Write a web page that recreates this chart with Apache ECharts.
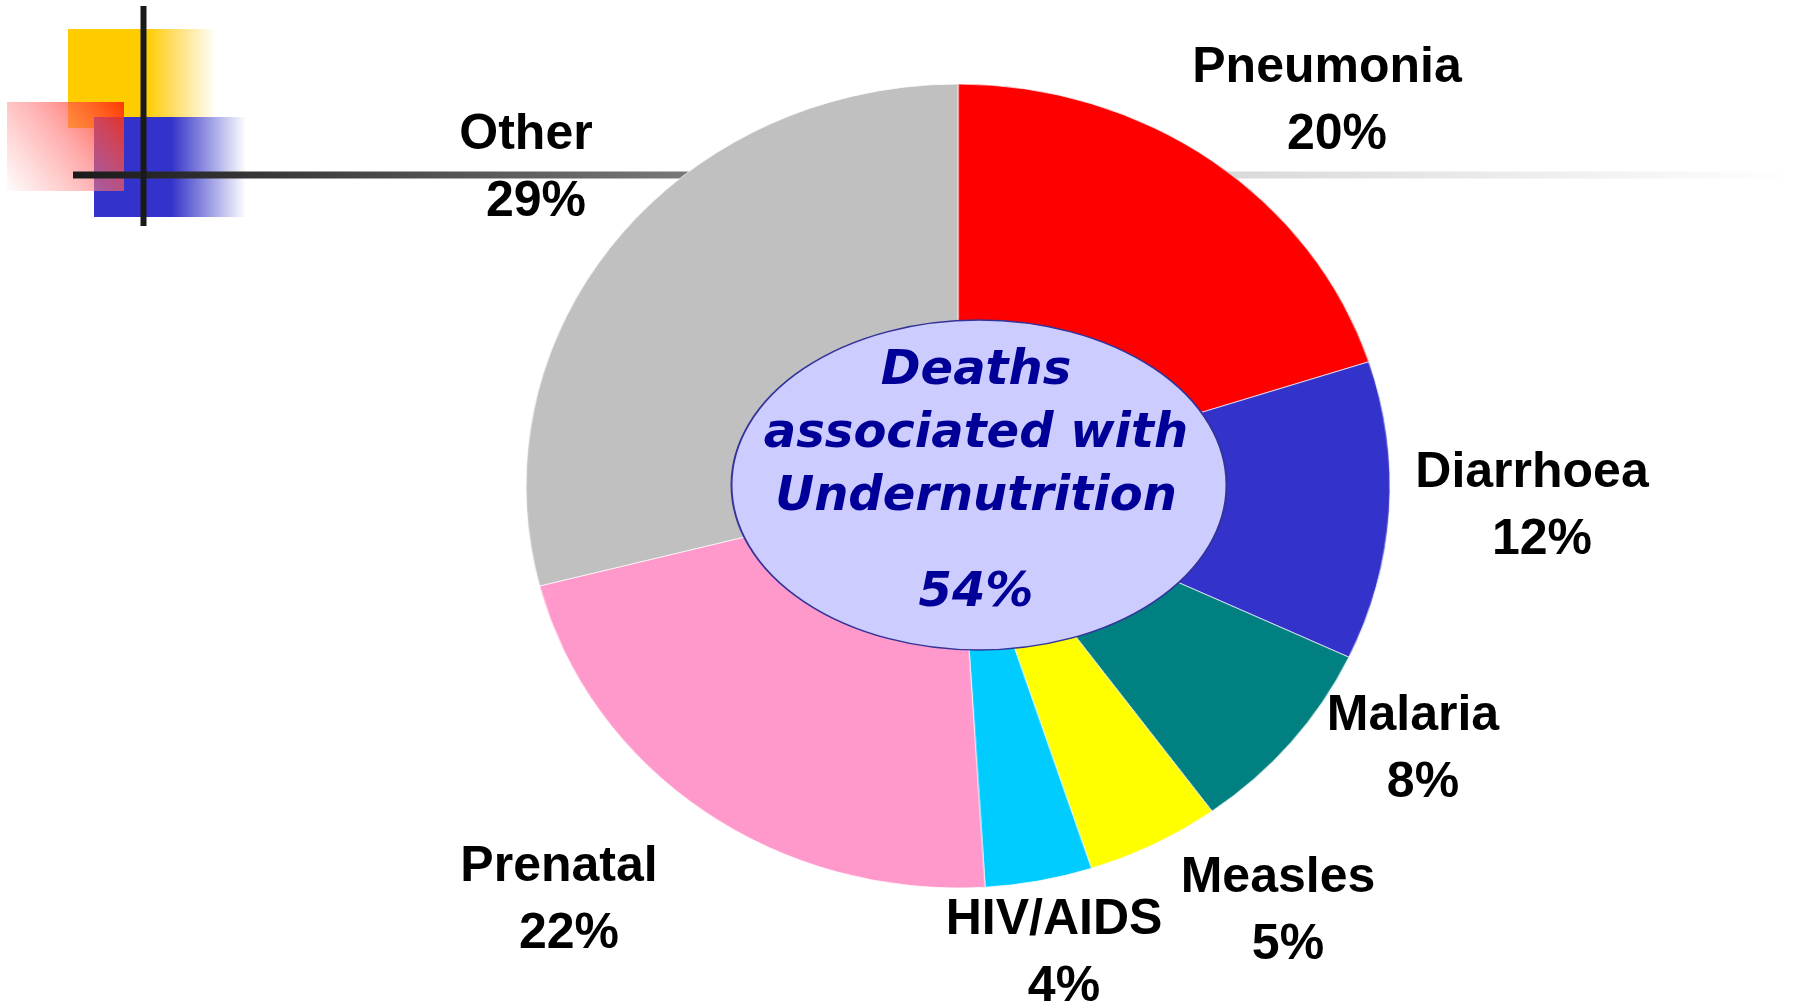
<!DOCTYPE html>
<html>
<head>
<meta charset="utf-8">
<script src="https://cdn.jsdelivr.net/npm/echarts@6/dist/echarts.min.js"></script>
<style>
html,body{margin:0;padding:0;background:#fff;}
#wrap{position:relative;width:1794px;height:1005px;overflow:hidden;background:#fff;}
.layer{position:absolute;left:0;top:0;width:1794px;height:1005px;}
/* the reference pie is an ellipse, slightly wider than tall */
#pieLayer{transform:scaleX(1.0746);transform-origin:958px 486px;}
</style>
</head>
<body>
<div id="wrap">
  <div id="decoLayer" class="layer"></div>
  <div id="pieLayer" class="layer"></div>
  <div id="labelLayer" class="layer"></div>
</div>
<script>
// ---- data ----
const categories = ['Pneumonia', 'Diarrhoea', 'Malaria', 'Measles', 'HIV/AIDS', 'Prenatal', 'Other'];
const values = [20, 12, 8, 5, 4, 22, 29];
const sliceColors = ['#FF0000', '#3333CC', '#008080', '#FFFF00', '#00CCFF', '#FF99CC', '#C0C0C0'];
const centerLines = ['Deaths', 'associated with', 'Undernutrition'];
const centerValue = '54%';

// ---- label placement (layout, not data) ----
const labelX = [1327, 1532, 1413, 1278, 1054, 559, 526];
const labelY = [102, 507, 750, 912, 954, 901, 169];

const PIE_CENTER = [958, 486];
const PIE_RADIUS = 402;

const labelFont = {
  fontFamily: '"Liberation Sans", Arial, sans-serif',
  fontWeight: 'bold',
  fontSize: 50,
  lineHeight: 67,
  color: '#000000'
};

function pieSeries(withLabels) {
  return {
    type: 'pie',
    z: 5,
    center: PIE_CENTER,
    radius: PIE_RADIUS,
    startAngle: 90,
    clockwise: true,
    avoidLabelOverlap: false,
    silent: true,
    itemStyle: withLabels ? {borderWidth: 0} : {borderColor: 'rgba(255,255,255,0.7)', borderWidth: 1},
    label: withLabels ? Object.assign({
      show: true,
      opacity: 1,
      position: 'outside',
      formatter: '{n|{b}}\n{p|{c}%}',
      align: 'center',
      rich: {
        n: Object.assign({}, labelFont),
        p: Object.assign({padding: [0, 0, 0, 20]}, labelFont)
      }
    }, labelFont) : {show: false},
    labelLine: {show: false},
    labelLayout: withLabels ? function (params) {
      return {x: labelX[params.dataIndex], y: labelY[params.dataIndex], align: 'center', verticalAlign: 'middle'};
    } : null,
    emphasis: {disabled: true},
    data: categories.map(function (c, i) {
      return {name: c, value: values[i],
        itemStyle: {color: withLabels ? 'rgba(0,0,0,0)' : sliceColors[i]}};
    })
  };
}

// ---- bottom layer: template decoration ----
const decoChart = echarts.init(document.getElementById('decoLayer'));
decoChart.setOption({
  backgroundColor: '#ffffff',
  animation: false,
  graphic: {elements: [
    {type: 'rect', shape: {x: 68, y: 29, width: 148, height: 99},
     style: {fill: {type: 'linear', x: 0, y: 0, x2: 1, y2: 0, colorStops: [
       {offset: 0, color: '#FFCC00'}, {offset: 0.53, color: '#FFCC00'},
       {offset: 0.70, color: '#FFDC60'}, {offset: 1, color: '#FFFFFF'}]}}},
    {type: 'rect', shape: {x: 94, y: 117, width: 152, height: 100},
     style: {fill: {type: 'linear', x: 0, y: 0, x2: 1, y2: 0, colorStops: [
       {offset: 0, color: '#3333CC'}, {offset: 0.51, color: '#3333CC'},
       {offset: 0.55, color: '#4545CC'}, {offset: 1, color: '#FFFFFF'}]}}},
    {type: 'rect', shape: {x: 7, y: 102, width: 117, height: 89},
     style: {fill: {type: 'linear', x: 1, y: 0, x2: 0, y2: 1, colorStops: [
       {offset: 0, color: 'rgba(255,40,0,0.9)'}, {offset: 0.45, color: 'rgba(255,110,110,0.6)'},
       {offset: 1, color: 'rgba(255,250,250,0.55)'}]}}},
    {type: 'rect', shape: {x: 73, y: 171.5, width: 1721, height: 7},
     style: {fill: {type: 'linear', x: 0, y: 0, x2: 1, y2: 0, colorStops: [
       {offset: 0, color: '#1a1a1a'}, {offset: 0.364, color: '#7a7a7a'},
       {offset: 0.672, color: '#d9d9d9'}, {offset: 1, color: '#ffffff'}]}}},
    {type: 'rect', shape: {x: 140.5, y: 6, width: 6, height: 220}, style: {fill: '#1a1a1a'}}
  ]}
});

// ---- middle layer: the pie ----
const pieChart = echarts.init(document.getElementById('pieLayer'));
pieChart.setOption({
  backgroundColor: 'transparent',
  animation: false,
  series: [pieSeries(false)]
});

// ---- top layer: labels + center ellipse ----
const labelChart = echarts.init(document.getElementById('labelLayer'));
const centerFont = 'italic bold 48px "DejaVu Sans"';
const centerY = [372, 435, 498];
const graphics = [
  {type: 'circle', z: 20, x: 979, y: 485, scaleX: 1.5, scaleY: 1,
   shape: {cx: 0, cy: 0, r: 165},
   style: {fill: '#CCCCFF', stroke: '#333399', lineWidth: 1.3}}
];
centerLines.forEach(function (t, i) {
  graphics.push({type: 'text', z: 21, x: 976, y: centerY[i],
    style: {text: t, font: centerFont, fill: '#000099', align: 'center', verticalAlign: 'middle'}});
});
graphics.push({type: 'text', z: 21, x: 976, y: 594,
  style: {text: centerValue, font: centerFont, fill: '#000099', align: 'center', verticalAlign: 'middle'}});

labelChart.setOption({
  backgroundColor: 'transparent',
  animation: false,
  graphic: {elements: graphics},
  series: [pieSeries(true)]
});
</script>
</body>
</html>
